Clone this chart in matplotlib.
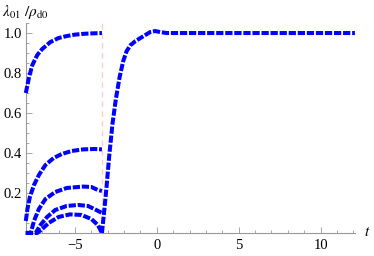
import matplotlib
matplotlib.use("Agg")
import matplotlib.pyplot as plt
import numpy as np
from matplotlib.ticker import MultipleLocator

plt.rcParams['font.family'] = ['Liberation Serif', 'DejaVu Serif']
plt.rcParams['mathtext.fontset'] = 'stix'

# time of the switch (dashed pink line)
t_switch = -3.35

# first stage: five curves before the switch
t_a = [-8, -7.8, -7.6, -7.3, -7.0, -6.5, -6.0, -5.5, -5.0, -4.5, -4.0, -3.35]
lam_a = [0.70, 0.78, 0.84, 0.89, 0.92, 0.955, 0.975, 0.985, 0.992, 0.996, 0.998, 1.0]

t_b = [-8, -7.9, -7.75, -7.5, -7.2, -6.8, -6.3, -5.8, -5.2, -4.5, -3.8, -3.35]
lam_b = [0.06, 0.12, 0.18, 0.24, 0.29, 0.34, 0.375, 0.395, 0.41, 0.418, 0.42, 0.418]

t_c = [-8, -7.7, -7.5, -7.2, -6.8, -6.2, -5.5, -4.5, -4.0, -3.6, -3.35]
lam_c = [0.0, 0.0, 0.06, 0.12, 0.17, 0.205, 0.225, 0.232, 0.23, 0.215, 0.21]

t_d = [-8, -7.4, -7.1, -6.7, -6.2, -5.5, -4.8, -4.2, -3.7, -3.35]
lam_d = [0.0, 0.0, 0.04, 0.08, 0.115, 0.135, 0.14, 0.135, 0.115, 0.10]

t_e = [-8, -7.3, -7.0, -6.6, -6.0, -5.3, -4.6, -4.0, -3.6, -3.35]
lam_e = [0.0, 0.0, 0.02, 0.05, 0.08, 0.093, 0.09, 0.07, 0.04, 0.0]

# second stage: recovery after the switch
t_f = [-3.35, -3.2, -3.07, -2.9, -2.7, -2.5, -2.27, -2.05, -1.84, -1.6, -1.3,
       -1.0, -0.7, -0.4, -0.1, 0.2, 0.6, 1.0, 12.1]
lam_f = [0.0, 0.12, 0.23, 0.39, 0.55, 0.67, 0.78, 0.86, 0.91, 0.94, 0.96,
         0.975, 0.99, 1.005, 1.01, 1.005, 1.0, 1.0, 1.0]

fig = plt.figure(figsize=(3.74, 2.56), dpi=100)
ax = fig.add_axes([0.069, 0.09, 0.88, 0.82])

gray = '#999999'
ax.axvline(t_switch, color='#ffcccc', lw=1, ls=(0, (4, 3)), zorder=1)

for tt, yy in [(t_a, lam_a), (t_b, lam_b), (t_c, lam_c), (t_d, lam_d),
               (t_e, lam_e), (t_f, lam_f)]:
    ax.plot(tt, yy, color='#0000ff', lw=2.9, ls=(0, (1.8, 0.45)),
            solid_capstyle='butt', dash_capstyle='butt', zorder=3, clip_on=False)

ax.set_xlim(-8, 12.1)
ax.set_ylim(0, 1.05)

for s in ['top', 'right']:
    ax.spines[s].set_visible(False)
for s in ['left', 'bottom']:
    ax.spines[s].set_color(gray)
    ax.spines[s].set_linewidth(0.8)

ax.xaxis.set_major_locator(MultipleLocator(5))
ax.xaxis.set_minor_locator(MultipleLocator(1))
ax.yaxis.set_major_locator(MultipleLocator(0.2))
ax.yaxis.set_minor_locator(MultipleLocator(0.05))
ax.tick_params(which='both', direction='in', color=gray, width=0.6, labelsize=10.5)
ax.tick_params(which='major', length=4)
ax.tick_params(which='minor', length=2)
ax.tick_params(axis='x', pad=4)
ax.tick_params(axis='y', pad=3)

ax.set_xticks([-5, 0, 5, 10])
ax.set_xticklabels(['\u22125', '0', '5', '10'])
ax.set_yticks([0.2, 0.4, 0.6, 0.8, 1.0])
ax.set_yticklabels(['0.2', '0.4', '0.6', '0.8', '1.0'])

fig.text(0.005, 0.955, r'$\lambda_{01}\ /\rho_{\mathrm{d0}}$', fontsize=11,
         ha='left', va='center')
fig.text(0.99, 0.09, r'$t$', fontsize=11, ha='right', va='center')

fig.savefig('out.png', dpi=100)
